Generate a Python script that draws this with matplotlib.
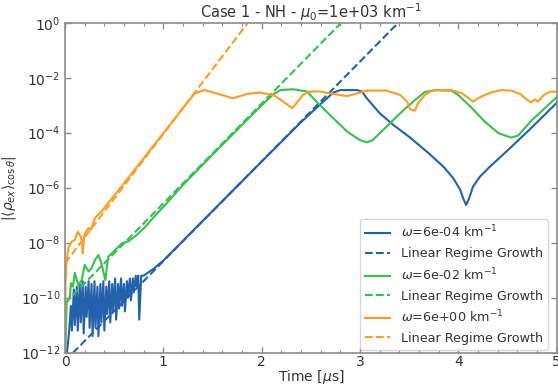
import numpy as np
import matplotlib
matplotlib.use("Agg")
import matplotlib.pyplot as plt
from matplotlib.ticker import MultipleLocator, NullLocator

plt.rcParams['font.family'] = ['DejaVu Sans']
plt.rcParams['mathtext.fontset'] = 'dejavusans'

# ── colours ──────────────────────────────────────────────
BLUE = '#2262aa'
GREEN = '#33c34c'
ORANGE = '#ff9d1e'
TXT = '#333333'
SPINE = '#8c8c8c'

# ── data (log10 of |<rho_ex>|) ───────────────────────────
t_blue = [0.0, 0.02, 0.04, 0.06, 0.07, 0.09, 0.10, 0.12, 0.13, 0.15, 0.16, 0.18,
          0.19, 0.21, 0.22, 0.24, 0.25, 0.27, 0.28, 0.30, 0.31, 0.33, 0.34, 0.36,
          0.37, 0.39, 0.40, 0.42, 0.43, 0.45, 0.46, 0.48, 0.49, 0.51, 0.52, 0.54,
          0.55, 0.57, 0.58, 0.60, 0.61, 0.63, 0.64, 0.66, 0.67, 0.69, 0.70, 0.72,
          0.73, 0.745, 0.755, 0.775, 0.80, 0.90, 1.00, 1.50, 2.00, 2.40, 2.59,
          2.73, 2.80, 2.97, 3.02, 3.07, 3.20, 3.34, 3.50, 3.70, 3.85, 3.95,
          4.02, 4.05, 4.08, 4.11, 4.15, 4.22, 4.32, 4.50, 4.75, 5.00]
L_blue = [-13.0, -12.0, -11.3, -10.3, -11.2, -9.7, -11.0, -9.6, -11.2, -9.5, -10.9, -9.4,
          -11.3, -9.6, -10.7, -9.4, -11.1, -9.5, -11.4, -9.4, -11.1, -9.6, -11.4, -9.5,
          -10.9, -9.4, -11.2, -9.6, -10.6, -9.4, -10.9, -9.5, -10.5, -9.3, -10.8, -9.5,
          -10.4, -9.3, -10.3, -9.5, -10.5, -9.4, -10.0, -9.3, -10.1, -9.3, -9.8, -9.2,
          -9.6, -9.2, -10.8, -9.2, -9.2, -8.95, -8.65, -6.85, -5.05, -3.62, -2.99,
          -2.54, -2.45, -2.45, -2.50, -2.75, -3.29, -3.72, -4.15, -4.75, -5.24, -5.66,
          -6.08, -6.39, -6.63, -6.39, -5.96, -5.60, -5.24, -4.65, -3.80, -2.92]

t_green = [0.0, 0.017, 0.05, 0.06, 0.08, 0.10, 0.135, 0.17, 0.20, 0.24, 0.27, 0.305,
           0.34, 0.37, 0.41, 0.44, 0.51, 0.58, 0.64, 0.71, 0.81, 0.92, 1.00, 1.20,
           1.50, 1.80, 2.00, 2.12, 2.19, 2.32, 2.46, 2.59, 2.73, 2.87, 3.00, 3.07,
           3.13, 3.27, 3.41, 3.54, 3.66, 3.76, 3.93, 4.00, 4.14, 4.27, 4.41, 4.54,
           4.61, 4.75, 4.88, 5.00]
L_green = [-12.5, -10.2, -9.96, -9.47, -9.6, -9.1, -9.54, -9.36, -8.81, -9.05, -8.93, -8.63,
           -8.45, -8.75, -9.36, -8.51, -8.27, -8.02, -7.96, -7.78, -7.45, -7.0, -6.7, -5.9,
           -4.8, -3.72, -3.0, -2.6, -2.45, -2.42, -2.5, -2.99, -3.48, -3.96, -4.27, -4.35,
           -4.27, -3.78, -3.29, -2.87, -2.52, -2.45, -2.47, -2.63, -3.11, -3.6, -4.02, -4.18,
           -4.1, -3.54, -3.11, -2.71]

t_orange = [0.0, 0.005, 0.017, 0.034, 0.068, 0.10, 0.13, 0.16, 0.175, 0.18, 0.197, 0.237,
            0.26, 0.305, 0.373, 0.44, 0.80, 1.305, 1.32, 1.42, 1.54, 1.71, 1.85, 1.98,
            2.12, 2.22, 2.31, 2.34, 2.42, 2.48, 2.59, 2.73, 2.87, 2.97, 3.07, 3.27,
            3.41, 3.48, 3.51, 3.56, 3.59, 3.66, 3.71, 3.76, 3.93, 4.04, 4.15, 4.20,
            4.27, 4.34, 4.44, 4.54, 4.63, 4.68, 4.74, 4.78, 4.81, 4.87, 4.93, 5.00]
L_orange = [-12.0, -9.5, -8.64, -8.19, -7.96, -7.9, -7.6, -7.78, -8.0, -8.38, -7.72, -7.47,
            -7.54, -7.1, -6.85, -6.56, -4.93, -2.63, -2.57, -2.45, -2.57, -2.75, -2.59, -2.54,
            -2.63, -2.87, -3.11, -2.99, -2.63, -2.51, -2.5, -2.59, -2.67, -2.57, -2.47, -2.47,
            -2.63, -2.87, -3.15, -3.2, -2.92, -2.63, -2.51, -2.46, -2.45, -2.57, -2.87, -2.75,
            -2.63, -2.53, -2.45, -2.47, -2.59, -2.75, -2.9, -2.79, -2.87, -2.63, -2.51, -2.51]

# linear regime growth: end points of the straight fits
t_lin_blue, L_lin_blue = [0.0, 3.39], [-12.3, 0.0]
t_lin_green, L_lin_green = [0.0, 2.81], [-10.2, 0.0]
t_lin_orange, L_lin_orange = [0.0, 1.86], [-8.75, 0.0]

omegas = ['6e-04', '6e-02', '6e+00']

# ── figure ───────────────────────────────────────────────
fig = plt.figure(figsize=(5.58, 3.85), dpi=100, facecolor='white')
ax = fig.add_axes([0.1165, 0.084, 0.881, 0.857])

series = [
    (t_blue, L_blue, t_lin_blue, L_lin_blue, BLUE),
    (t_green, L_green, t_lin_green, L_lin_green, GREEN),
    (t_orange, L_orange, t_lin_orange, L_lin_orange, ORANGE),
]
for (ts, Ls, tl, Ll, c), om in zip(series, omegas):
    ax.plot(ts, 10.0 ** np.array(Ls), color=c, lw=1.5,
            label=r'$\omega$=' + om + r' km$^{-1}$')
    ax.plot(tl, 10.0 ** np.array(Ll), color=c, lw=1.5, ls='--',
            label='Linear Regime Growth')

ax.set_yscale('log')
ax.set_xlim(0, 5)
ax.set_ylim(1e-12, 1)
ax.set_yticks([10.0 ** k for k in range(-12, 1, 2)])
ax.yaxis.set_minor_locator(NullLocator())
ax.xaxis.set_major_locator(MultipleLocator(1))
ax.xaxis.set_minor_locator(MultipleLocator(0.2))

ax.tick_params(which='both', direction='in', top=True, right=True,
               colors=SPINE, labelcolor=TXT, labelsize=10)
ax.tick_params(which='major', length=4, width=1)
ax.tick_params(which='minor', length=2, width=0.8)
ax.tick_params(axis='x', pad=2)
for sp in ax.spines.values():
    sp.set_color(SPINE)
    sp.set_linewidth(1.2)

ax.set_title(r'Case 1 - NH - $\mu_0$=1e+03 km$^{-1}$', fontsize=10.5,
             color=TXT, pad=3)
ax.set_xlabel(r'Time [$\mu$s]', fontsize=10, color=TXT, labelpad=-1)
ax.set_ylabel(r'$|\langle\rho_{ex}\rangle_{\cos\theta}|$', fontsize=10,
              color=TXT, labelpad=2)

leg = ax.legend(loc='lower right', bbox_to_anchor=(0.982, 0.008),
                borderaxespad=0, fontsize=9.2, frameon=True, fancybox=True,
                labelspacing=0.5)
leg.get_frame().set_edgecolor('#cccccc')
for txt in leg.get_texts():
    txt.set_color(TXT)

fig.savefig('out.png', dpi=100, facecolor='white')
